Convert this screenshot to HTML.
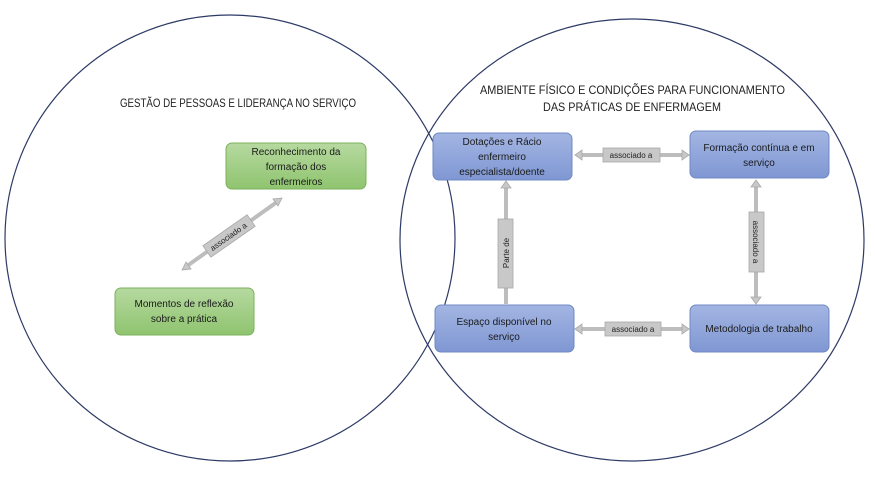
<!DOCTYPE html>
<html><head><meta charset="utf-8"><style>
body{margin:0;background:#fff;}
svg text{font-family:"Liberation Sans",sans-serif;}
</style></head><body>
<svg width="875" height="474" viewBox="0 0 875 474" xmlns="http://www.w3.org/2000/svg">
<defs>
<linearGradient id="g" x1="0" y1="0" x2="0" y2="1"><stop offset="0" stop-color="#b6d9a0"/><stop offset="1" stop-color="#8fc46f"/></linearGradient>
<linearGradient id="b" x1="0" y1="0" x2="0" y2="1"><stop offset="0" stop-color="#a3b5e2"/><stop offset="1" stop-color="#7f97d3"/></linearGradient>
</defs>
<ellipse cx="230" cy="238" rx="225" ry="223" fill="none" stroke="#2d3a66" stroke-width="1.2"/>
<ellipse cx="632" cy="240" rx="232" ry="221" fill="none" stroke="#2d3a66" stroke-width="1.2"/>
<text x="120" y="107" font-size="11.5" textLength="236" lengthAdjust="spacingAndGlyphs" fill="#222">GESTÃO DE PESSOAS E LIDERANÇA NO SERVIÇO</text>
<text x="480" y="94" font-size="11.5" textLength="305" lengthAdjust="spacingAndGlyphs" fill="#222">AMBIENTE FÍSICO E CONDIÇÕES PARA FUNCIONAMENTO</text>
<text x="543" y="111" font-size="11.5" textLength="178" lengthAdjust="spacingAndGlyphs" fill="#222">DAS PRÁTICAS DE ENFERMAGEM</text>
<g stroke="#bdbdbd" stroke-width="4" fill="#bdbdbd">
<line x1="580" y1="155" x2="684" y2="155"/><line x1="580" y1="329" x2="684" y2="329"/>
<line x1="506" y1="186" x2="506" y2="304"/><line x1="756" y1="184" x2="756" y2="300"/>
<line x1="187" y1="266" x2="277" y2="202"/>
</g>
<g fill="#c8c8c8" stroke="#a8a8a8" stroke-width="0.8">
<polygon points="575,155 582,150 582,160"/><polygon points="689,155 682,150 682,160"/>
<polygon points="575,329 582,324 582,334"/><polygon points="689,329 682,324 682,334"/>
<polygon points="506,181 501,188 511,188"/><polygon points="756,180 751,187 761,187"/><polygon points="756,304 751,297 761,297"/>
<polygon points="182,270 186,262 191,269"/><polygon points="282,198 273,199 278,206"/>
<rect x="603" y="148" width="57" height="14"/><rect x="605" y="322" width="56" height="14"/>
<rect x="498" y="219" width="15" height="69"/><rect x="749" y="212" width="15" height="60"/>
<rect x="-27" y="-7" width="54" height="14" transform="translate(229,236) rotate(-35)"/>
</g>
<g font-size="8" fill="#222" text-anchor="middle">
<text x="631" y="158">associado a</text><text x="633" y="332">associado a</text>
<text transform="translate(509,253) rotate(-90)">Parte de</text>
<text transform="translate(753,242) rotate(90)">associado a</text>
<text transform="translate(230,239) rotate(-35)">associado a</text>
</g>
<g stroke="#6f88c4" stroke-width="1" fill="url(#b)">
<rect x="433" y="133" width="139" height="47" rx="6"/><rect x="690" y="131" width="139" height="47" rx="6"/>
<rect x="435" y="305" width="139" height="47" rx="6"/><rect x="690" y="305" width="139" height="47" rx="6"/>
</g>
<g stroke="#7cb25c" stroke-width="1" fill="url(#g)">
<rect x="226" y="143" width="140" height="46" rx="6"/><rect x="115" y="288" width="139" height="47" rx="6"/>
</g>
<g font-size="10" fill="#1a1a1a" text-anchor="middle">
<text x="502" y="145">Dotações e Rácio</text><text x="502" y="160">enfermeiro</text><text x="502" y="175">especialista/doente</text>
<text x="759" y="151">Formação contínua e em</text><text x="759" y="166">serviço</text>
<text x="504" y="325">Espaço disponível no</text><text x="504" y="340">serviço</text>
<text x="759" y="332">Metodologia de trabalho</text>
<text x="296" y="155">Reconhecimento da</text><text x="296" y="170">formação dos</text><text x="296" y="185">enfermeiros</text>
<text x="184" y="307">Momentos de reflexão</text><text x="184" y="322">sobre a prática</text>
</g>
</svg>
</body></html>
